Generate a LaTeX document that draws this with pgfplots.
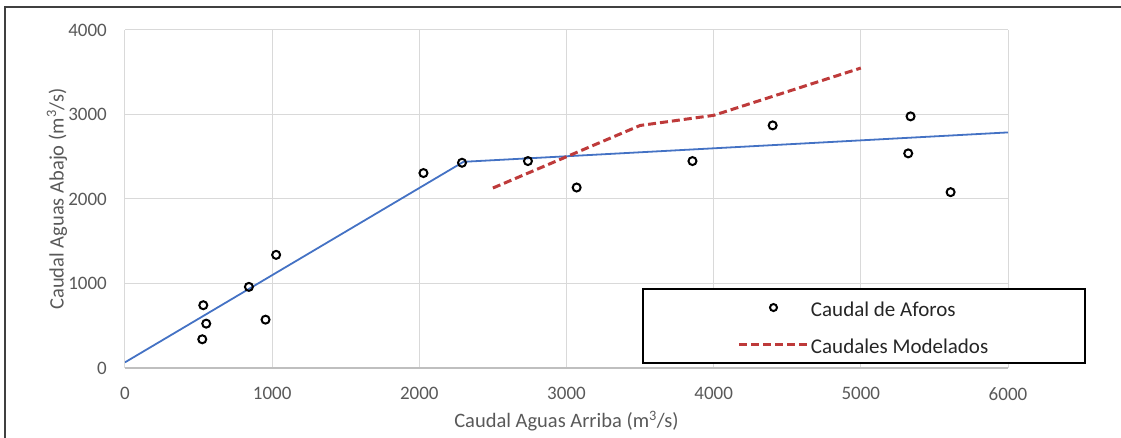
\documentclass[border=0pt]{standalone}
\usepackage{fontspec}
\setmainfont{Carlito}
\usepackage{pgfplots}
\usepackage{pgfplotstable}
\pgfplotsset{compat=1.18}

\definecolor{txtgray}{HTML}{595959}
\definecolor{gridgray}{HTML}{D9D9D9}
\definecolor{axgray}{HTML}{BFBFBF}
\definecolor{linblue}{HTML}{4472C4}
\definecolor{modred}{HTML}{BE3A3A}

% Caudales aforados (aguas arriba, aguas abajo)
\pgfplotstableread{
x    y
525  340
532  743
552  525
842  960
955  572
1027 1339
2028 2307
2290 2429
2738 2449
3069 2136
3856 2449
4401 2871
5338 2978
5322 2540
5610 2081
}\aforos

\begin{document}
\begin{tikzpicture}
\useasboundingbox (-125bp,-70bp) rectangle (996bp,368bp);
\draw[black!75, line width=1.3bp] (-120bp,-80bp) -- (-120bp,361bp) -- (1005bp,361bp);
\begin{axis}[
  at={(0,0)}, anchor=south west,
  scale only axis, width=883bp, height=338bp,
  xmin=0, xmax=6000, ymin=0, ymax=4000,
  xtick={0,1000,...,6000}, ytick={0,1000,...,4000},
  major tick length=0pt,
  grid=major,
  major grid style={gridgray, line width=1bp},
  axis x line*=bottom, axis y line*=left,
  x axis line style={axgray, line width=1.2bp},
  y axis line style={draw=none},
  /pgf/number format/assume math mode=true,
  /pgf/number format/set thousands separator={},
  ticklabel style={font=\fontsize{19bp}{22bp}\selectfont, text=txtgray, inner sep=0pt},
  yticklabel style={anchor=east, xshift=-18bp},
  xticklabel style={anchor=north, yshift=-19bp},
  xlabel={Caudal Aguas Arriba (m\textsuperscript{3}/s)},
  ylabel={Caudal Aguas Abajo (m\textsuperscript{3}/s)},
  label style={font=\fontsize{20.5bp}{24bp}\selectfont, text=txtgray, inner sep=0pt},
  xlabel style={at={(axis description cs:0.5,-0.157)}, anchor=center},
  ylabel style={at={(axis description cs:-0.077,0.5)}, anchor=center},
  legend cell align=left,
  legend style={
    at={(rel axis cs:0.5855,0.0125)}, anchor=south west,
    draw=black, line width=2bp,
    inner xsep=95bp, inner ysep=7.5bp,
    row sep=14bp,
    font=\fontsize{21bp}{25bp}\selectfont, text=black!85,
    nodes={inner sep=2bp, text height=18.5bp, text depth=0bp},
  },
  legend image code/.code={
    \draw[mark repeat=2, mark phase=2, #1]
      plot coordinates {(0bp,0bp) (34bp,0bp) (68bp,0bp)};
  },
]
\addplot[linblue, line width=1.8bp, forget plot]
  coordinates {(0,67) (2300,2440) (6000,2788)};
\addplot[only marks, mark=o, mark size=4bp,
  mark options={black, line width=2bp},
  legend image post style={mark size=3.5bp}] table {\aforos};
\addlegendentry{Caudal de Aforos}
\addplot[modred, line width=3bp, dash pattern=on 8bp off 4bp]
  coordinates {(2500,2130) (3500,2870) (4000,2990) (5000,3550)};
\addlegendentry{Caudales Modelados}
\end{axis}
\end{tikzpicture}
\end{document}
